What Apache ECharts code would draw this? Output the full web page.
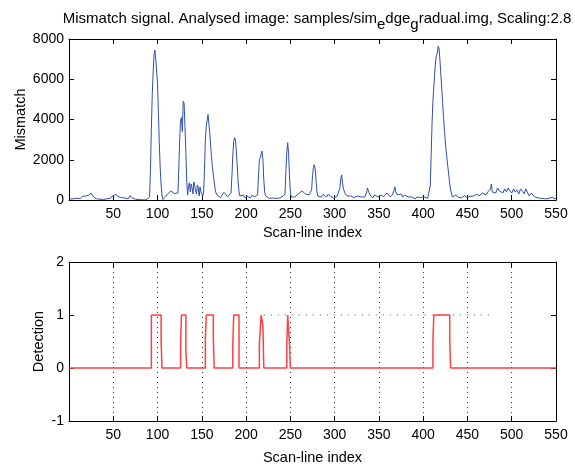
<!DOCTYPE html>
<html>
<head>
<meta charset="utf-8">
<script src="https://cdn.jsdelivr.net/npm/echarts@6/dist/echarts.min.js"></script>
<style>
  html, body { margin: 0; padding: 0; background: #fff; }
  #chart { width: 575px; height: 466px; }
</style>
</head>
<body>
<div id="chart"></div>
<script>
  // scan-line index ticks
  const xTicks = [50, 100, 150, 200, 250, 300, 350, 400, 450, 500, 550];

  // mismatch signal, [scan-line, value]
  const mismatch = [
    [1,50],[3,120],[5,60],[7,150],[9,90],[11,130],[13,70],[15,180],[17,110],[19,200],[21,150],[23,250],[25,350],[27,180],[29,120],[31,60],[33,90],[35,40],[37,70],[39,30],[41,100],[43,60],[45,150],[47,90],[49,200],[51,160],[53,280],[55,180],[57,220],[59,120],[61,180],[63,100],[65,150],[67,60],[69,220],[71,120],[73,80],[75,40],[77,60],[79,20],[81,30],[83,10],[85,20],[87,5],[89,30],[91,150],
    [92,1500],[93,3500],[94,5200],[95,6300],[96,7200],[97,7450],[98,7000],[99,6950],[100,5800],[101,4300],[102,2800],[103,1600],[104,800],[105,250],[106,20],[107,10],[109,150],[111,280],[113,350],[115,450],[117,500],[119,320],[121,280],[123,350],
    [124,1500],[125,3000],[126,3950],[127,4100],[128,3400],[129,4900],[130,4800],[131,3600],[132,2400],[133,900],[134,250],[135,700],[136,850],[137,400],[138,800],[139,600],[140,300],[141,900],[142,700],[143,450],[144,300],[145,750],[146,600],[147,200],[148,650],[149,400],[150,350],[151,200],[152,350],
    [153,1500],[154,3000],[155,3650],[156,3700],[157,4250],[158,4200],[159,3300],[160,2700],[161,2100],[162,1600],[163,1250],[164,900],[165,550],[166,350],[167,250],[169,200],[171,120],[173,250],[175,380],[177,280],[179,150],[181,200],[183,350],
    [184,1200],[185,2200],[186,2900],[187,3100],[188,3000],[189,2400],[190,1700],[191,900],[192,400],[193,200],[195,150],[197,250],[199,100],[201,200],[203,150],[205,100],[207,250],[209,150],[211,200],[213,250],
    [214,1200],[215,2000],[216,2100],[217,2300],[218,2430],[219,2000],[220,1000],[221,400],[222,200],[224,150],[226,80],[228,150],[230,100],[232,120],[234,80],[236,150],[238,100],[240,120],[242,200],[244,300],
    [245,1500],[246,2400],[247,2850],[248,2300],[249,1200],[250,400],[251,150],[253,100],[255,150],[257,200],[259,300],[261,350],[263,450],[265,420],[267,300],[269,380],[271,250],[273,300],[274,500],
    [275,1200],[276,1600],[277,1750],[278,1550],[279,1000],[280,400],[281,200],[283,250],[285,150],[287,280],[289,200],[291,150],[293,300],[295,200],[297,150],[299,100],[301,150],[303,200],[305,250],[306,600],
    [307,1100],[308,1250],[309,800],[310,550],[311,600],[312,300],[314,200],[316,150],[318,200],[320,150],[322,120],[324,150],[326,200],[328,120],[330,150],[332,100],[334,150],[336,350],[337,600],[338,620],[339,350],[341,200],[343,100],[345,250],[347,200],[349,150],[351,120],[353,250],[355,150],[357,200],[359,350],[361,300],[363,150],[365,250],[367,450],[368,650],[369,400],[371,250],[373,200],[375,300],[377,150],[379,250],[381,200],[383,150],[385,100],[387,150],[389,100],[391,50],[393,150],[395,80],[397,120],[399,80],[401,150],[403,120],[405,80],[407,150],
    [408,700],[409,2200],[410,3800],[411,4900],[412,5600],[413,6300],[414,6900],[415,7200],[416,7300],[417,7650],[418,7500],[419,6900],[420,6200],[421,5500],[422,4800],[423,4100],[424,3500],[425,2900],[426,2400],[427,2000],[428,1600],[429,1200],[430,800],[431,500],[432,300],[433,150],[435,200],[437,250],[439,150],[441,200],[443,100],[445,150],[447,220],[449,120],[451,100],[453,180],[455,120],[457,200],[459,250],[461,300],[463,200],[465,250],[467,350],[469,300],[471,250],[473,400],[475,350],[476,550],[477,800],[478,400],[480,450],[482,350],[484,600],[486,450],[488,500],[490,350],[492,550],[494,400],[496,600],[498,450],[500,350],[502,550],[504,400],[506,500],[508,300],[510,550],[512,450],[514,300],[516,550],[518,350],[520,200],[522,350],[524,250],[526,150],[528,200],[530,100],[532,150],[534,80],[536,120],[538,60],[540,150],[542,80],[544,100],[546,150],[548,50],[550,100]
  ];

  // detection result, step function
  const detection = [
    [0,0],[93,0],[93,1],[104,1],[104,0.55],[105,0.55],[105,0],
    [126,0],[126,0.45],[127,0.45],[127,1],[132,1],[132,0.3],[133,0.3],[133,0],
    [154,0],[154,0.55],[155,0.55],[155,1],[163,1],[163,0.55],[164,0.55],[164,0],
    [185,0],[185,0.45],[186,0.45],[186,1],[192,1],[192,0],
    [215,0],[215,0.45],[217,0.45],[217,1],[219,1],[219,0.8],[220,0.8],[220,0],
    [246,0],[246,0.45],[247,0.45],[247,1],[249,1],[249,0.45],[250,0.45],[250,0],
    [411,0],[411,0.5],[412,0.5],[412,1],[430,1],[430,0.55],[431,0.55],[431,0],[550,0]
  ];

  // dotted reference level in the lower plot
  const levelLine = [[220,1],[480,1]];

  const font = 'Liberation Sans, Arial, sans-serif';
  const black = '#000';

  function xAx(grid, showLabel, pos, gap) {
    return {
      type: 'value', gridIndex: grid, min: 0, max: 550, interval: 50, position: pos,
      name: showLabel ? 'Scan-line index' : '', nameLocation: 'middle', nameGap: gap || 0,
      nameTextStyle: { fontFamily: font, fontSize: 14.5, color: black },
      axisLine: { onZero: false, lineStyle: { color: black, width: 1 } },
      axisTick: { inside: true, length: 5, lineStyle: { color: black } },
      axisLabel: { show: showLabel, fontFamily: font, fontSize: 14, color: black, margin: 7,
        formatter: v => (v === 0 ? '' : String(v)) },
      splitLine: { show: false }
    };
  }
  function yAx(grid, min, max, step, name, gap, showLabel, pos) {
    return {
      type: 'value', gridIndex: grid, min: min, max: max, interval: step, position: pos,
      name: name, nameLocation: 'middle', nameGap: gap, nameMoveOverlap: false,
      nameTextStyle: { fontFamily: font, fontSize: 14.5, color: black },
      axisLine: { show: true, onZero: false, lineStyle: { color: black, width: 1 } },
      axisTick: { show: true, inside: true, length: 5, lineStyle: { color: black } },
      axisLabel: { show: showLabel, fontFamily: font, fontSize: 14, color: black, margin: 5,
        formatter: v => String(v) },
      splitLine: { show: false }
    };
  }

  const chart = echarts.init(document.getElementById('chart'), null, { renderer: 'canvas' });
  const bottomX = xAx(1, true, 'bottom', 29);
  bottomX.splitLine = { show: true, lineStyle: { color: '#333', type: [1, 4], width: 1 } };

  chart.setOption({
    animation: false,
    backgroundColor: '#fff',
    title: {
      text: 'Mismatch signal. Analysed image: samples/sim{s|e}dge{s|g}radual.img, Scaling:2.8',
      left: 312, top: 1, textAlign: 'center',
      textStyle: {
        fontFamily: font, fontSize: 15, fontWeight: 'normal', color: black,
        rich: { s: { fontFamily: font, fontSize: 15, color: black, padding: [11, 0, 0, 0] } }
      }
    },
    grid: [
      { left: 69, right: 19, top: 39, height: 161 },
      { left: 69, right: 19, top: 262, height: 161 }
    ],
    xAxis: [
      xAx(0, true, 'bottom', 25),
      bottomX,
      xAx(0, false, 'top'),
      xAx(1, false, 'top')
    ],
    yAxis: [
      yAx(0, 0, 8000, 2000, 'Mismatch', 41, true, 'left'),
      yAx(1, -1, 2, 1, 'Detection', 23, true, 'left'),
      yAx(0, 0, 8000, 2000, '', 0, false, 'right'),
      yAx(1, -1, 2, 1, '', 0, false, 'right')
    ],
    series: [
      {
        type: 'line', xAxisIndex: 0, yAxisIndex: 0, data: mismatch,
        showSymbol: false, lineStyle: { color: '#2f4fb0', width: 1 }, z: 3
      },
      {
        type: 'line', xAxisIndex: 1, yAxisIndex: 1, data: levelLine,
        showSymbol: false, lineStyle: { color: '#555', width: 1, type: [1, 6] }, z: 2
      },
      {
        type: 'line', xAxisIndex: 1, yAxisIndex: 1, data: detection,
        showSymbol: false, lineStyle: { color: '#ff4040', width: 1.5 }, z: 3
      }
    ]
  });
</script>
</body>
</html>
